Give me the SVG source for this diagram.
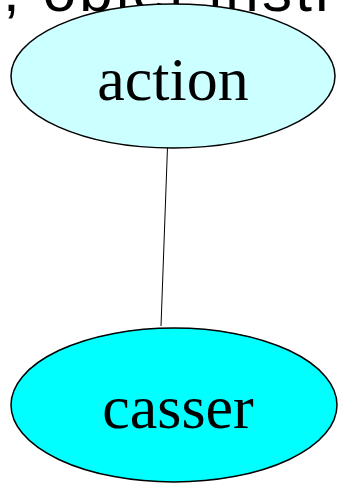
<svg xmlns="http://www.w3.org/2000/svg" width="339" height="484" viewBox="0 0 339 484">
  <style>
    .node { stroke: #000; stroke-width: 1.5; }
    .label { font-family: "Liberation Serif", "Times New Roman", serif; font-size: 62px; fill: #000; text-anchor: middle; }
    .edge { stroke: #000; stroke-width: 1; fill: none; }
    .caption { font-family: "Liberation Sans", Arial, sans-serif; font-size: 60px; fill: #000; }
  </style>
  <rect width="339" height="484" fill="#fff"/>
  <text class="caption" x="3" y="11" textLength="332" lengthAdjust="spacing">, objet instr</text>
  <g id="connectors">
    <line class="edge" x1="168" y1="133" x2="161" y2="326"/>
  </g>
  <g id="node-action">
    <ellipse class="node" cx="173" cy="76" rx="162" ry="72" fill="#ccffff"/>
    <text class="label" x="173" y="100">action</text>
  </g>
  <g id="node-casser">
    <ellipse class="node" cx="174" cy="405" rx="163" ry="77" fill="#00ffff"/>
    <text class="label" x="178" y="428">casser</text>
  </g>
</svg>
